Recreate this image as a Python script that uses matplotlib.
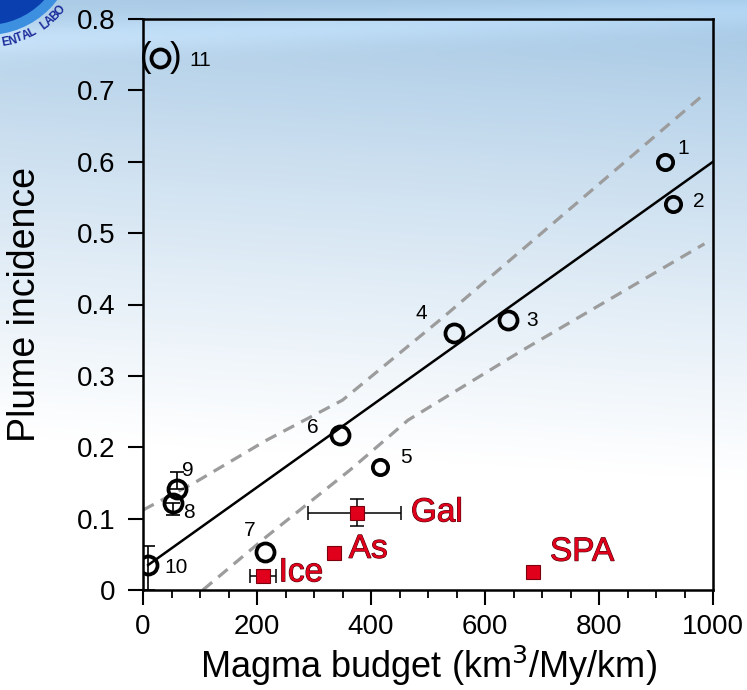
import numpy as np
import matplotlib
matplotlib.use("Agg")
import matplotlib.pyplot as plt
import matplotlib.patheffects as pe
from matplotlib.patches import Circle

plt.rcParams['font.family'] = ['Liberation Sans', 'DejaVu Sans']

# ---- data ----
site_ids = ['1', '2', '3', '4', '5', '6', '7', '8', '9', '10']
magma_budget = [915, 930, 640, 545, 416, 346, 214, 53, 60, 9]
plume_incidence = [0.600, 0.541, 0.378, 0.360, 0.172, 0.217, 0.053, 0.122, 0.141, 0.035]

outlier_id = '11'
outlier_x = 30
outlier_y = 0.746

# vertical error bars on circles (lower, upper) for sites 8, 9, 10
err_sites = ['8', '9', '10']
err_lower = [0.017, 0.0, 0.035]
err_upper = [0.0, 0.024, 0.026]

ridge_names = ['Gal', 'As', 'Ice', 'SPA']
ridge_x = [375, 335, 211, 684]
ridge_y = [0.108, 0.052, 0.019, 0.025]
ridge_xerr_lo = [85, 0, 23, 0]
ridge_xerr_hi = [77, 0, 23, 0]
ridge_yerr_lo = [0.018, 0, 0, 0]
ridge_yerr_hi = [0.019, 0, 0, 0]

fit_x = [9, 1000]
fit_y = [0.035, 0.600]

upper_band_x = [0, 94, 217, 350, 525, 982]
upper_band_y = [0.112, 0.152, 0.210, 0.266, 0.381, 0.693]
lower_band_x = [105, 217, 363, 465, 666, 985]
lower_band_y = [0.0, 0.075, 0.168, 0.238, 0.336, 0.485]

xticks = [0, 200, 400, 600, 800, 1000]
yticks = [0, 0.1, 0.2, 0.3, 0.4, 0.5, 0.6, 0.7, 0.8]
ytick_labels = ['0', '0.1', '0.2', '0.3', '0.4', '0.5', '0.6', '0.7', '0.8']

# ---- figure ----
W, H = 747, 690
fig = plt.figure(figsize=(W / 100, H / 100), dpi=100)

# background gradient + logo
bg = fig.add_axes([0, 0, 1, 1], zorder=-10)
yy, xx = np.mgrid[0:H, 0:W]
t = (yy + 0.06 * (W - xx)) / 480.0
t = np.clip(t, 0, 1)
top = np.array([158, 195, 226]) / 255.0
white = np.array([1.0, 1.0, 1.0])
img = top[None, None, :] * (1 - t[..., None] ** 0.8) + white[None, None, :] * (t[..., None] ** 0.8)
band = np.exp(-((yy - 40 + 0.04 * xx) / 18.0) ** 2) * 0.06
img = np.clip(img + band[..., None], 0, 1)
bg.imshow(img, extent=[0, W, H, 0], aspect='auto', interpolation='bilinear')
bg.set_xlim(0, W)
bg.set_ylim(H, 0)
bg.axis('off')
cx, cy = -13, -53
bg.add_patch(Circle((cx, cy), 88, facecolor='#3d8fe0', edgecolor='none'))
bg.add_patch(Circle((cx, cy), 78, facecolor='#0a3fb0', edgecolor='none'))
letters = 'ENTAL LABO'
angles = np.linspace(79, 41, len(letters))
for ch, th in zip(letters, angles):
    r = 97
    px = cx + r * np.cos(np.radians(th))
    py = cy + r * np.sin(np.radians(th))
    bg.text(px, py, ch, fontsize=8.5, fontweight='bold', color='#1a2a9a',
            rotation=90 - th, ha='center', va='center', rotation_mode='anchor')

ax = fig.add_axes([143 / W, 100 / H, 570 / W, 571 / H])
ax.set_facecolor('none')
ax.set_xlim(0, 1000)
ax.set_ylim(0, 0.8)

for s in ax.spines.values():
    s.set_linewidth(1.8)
    s.set_color('black')

ax.set_xticks(xticks)
ax.set_xticks(np.arange(0, 1001, 50), minor=True)
ax.set_yticks(yticks)
ax.set_yticklabels(ytick_labels)
ax.tick_params(axis='both', which='major', direction='out', length=11, width=1.5,
               labelsize=20, pad=6)
ax.tick_params(axis='x', which='minor', direction='out', length=6, width=1.3)
ax.tick_params(axis='y', which='major', pad=9)

# confidence band
ax.plot(upper_band_x, upper_band_y, color='#9c9c9c', lw=2.3, dashes=(3.8, 2.5), zorder=2)
ax.plot(lower_band_x, lower_band_y, color='#9c9c9c', lw=2.3, dashes=(3.8, 2.5), zorder=2)
# regression
ax.plot(fit_x, fit_y, color='black', lw=1.8, zorder=3)

# error bars on circles
for sid, lo, hi in zip(err_sites, err_lower, err_upper):
    i = site_ids.index(sid)
    ax.errorbar([magma_budget[i]], [plume_incidence[i]], yerr=[[lo], [hi]], fmt='none',
                ecolor='black', elinewidth=1.2, capsize=5, capthick=1.2, zorder=4)

# circles
small = {'1', '2', '5'}
for sid, x, y in zip(site_ids, magma_budget, plume_incidence):
    ms = 11 if sid in small else 13
    ax.plot([x], [y], marker='o', ms=ms, mfc='none', mec='black', mew=2.7, zorder=5,
            linestyle='none')

# site number labels
label_offsets = {
    '1': (32, 0.019), '2': (45, 0.004), '3': (42, 0.0), '4': (-57, 0.028),
    '5': (45, 0.014), '6': (-48, 0.010), '7': (-26, 0.031), '8': (28, -0.013),
    '9': (19, 0.027), '10': (49, -0.004),
}
for sid, x, y in zip(site_ids, magma_budget, plume_incidence):
    dx, dy = label_offsets[sid]
    ax.text(x + dx, y + dy, sid, fontsize=15, ha='center', va='center', zorder=6)

# outlier 11
ax.plot([outlier_x], [outlier_y], marker='o', ms=13, mfc='none', mec='black', mew=2.7,
        linestyle='none', zorder=5, clip_on=False)
ax.text(outlier_x - 26, outlier_y, '(', fontsize=25, ha='center', va='center')
ax.text(outlier_x + 27, outlier_y, ')', fontsize=25, ha='center', va='center')
ax.text(outlier_x + 70, outlier_y - 0.004, outlier_id, fontsize=15, ha='center', va='center')

# ridge squares
red = '#e0001b'
for name, x, y, xl, xh, yl, yh in zip(ridge_names, ridge_x, ridge_y, ridge_xerr_lo,
                                      ridge_xerr_hi, ridge_yerr_lo, ridge_yerr_hi):
    if xl or xh or yl or yh:
        ax.errorbar([x], [y], xerr=[[xl], [xh]] if (xl or xh) else None,
                    yerr=[[yl], [yh]] if (yl or yh) else None, fmt='none',
                    ecolor='black', elinewidth=1.1, capsize=5, capthick=1.1, zorder=6)
    ax.plot([x], [y], marker='s', ms=9.5, mfc=red, mec='#7a0010', mew=0.8,
            linestyle='none', zorder=7)

ridge_label_offsets = {'Gal': (95, 0.0), 'As': (26, 0.005), 'Ice': (27, 0.005), 'SPA': (30, 0.028)}
for name, x, y in zip(ridge_names, ridge_x, ridge_y):
    dx, dy = ridge_label_offsets[name]
    ax.text(x + dx, y + dy, name, fontsize=24, color=red, ha='left', va='center', zorder=8,
            path_effects=[pe.withStroke(linewidth=0.8, foreground='#4a0008')])

ax.set_xlabel('Magma budget (km$^{3}$/My/km)', fontsize=26, labelpad=2)
ax.set_ylabel('Plume incidence', fontsize=27)
ax.yaxis.set_label_coords(-0.175, 0.5)
ax.xaxis.set_label_coords(0.5, -0.095)

fig.savefig('out.png', dpi=100)
